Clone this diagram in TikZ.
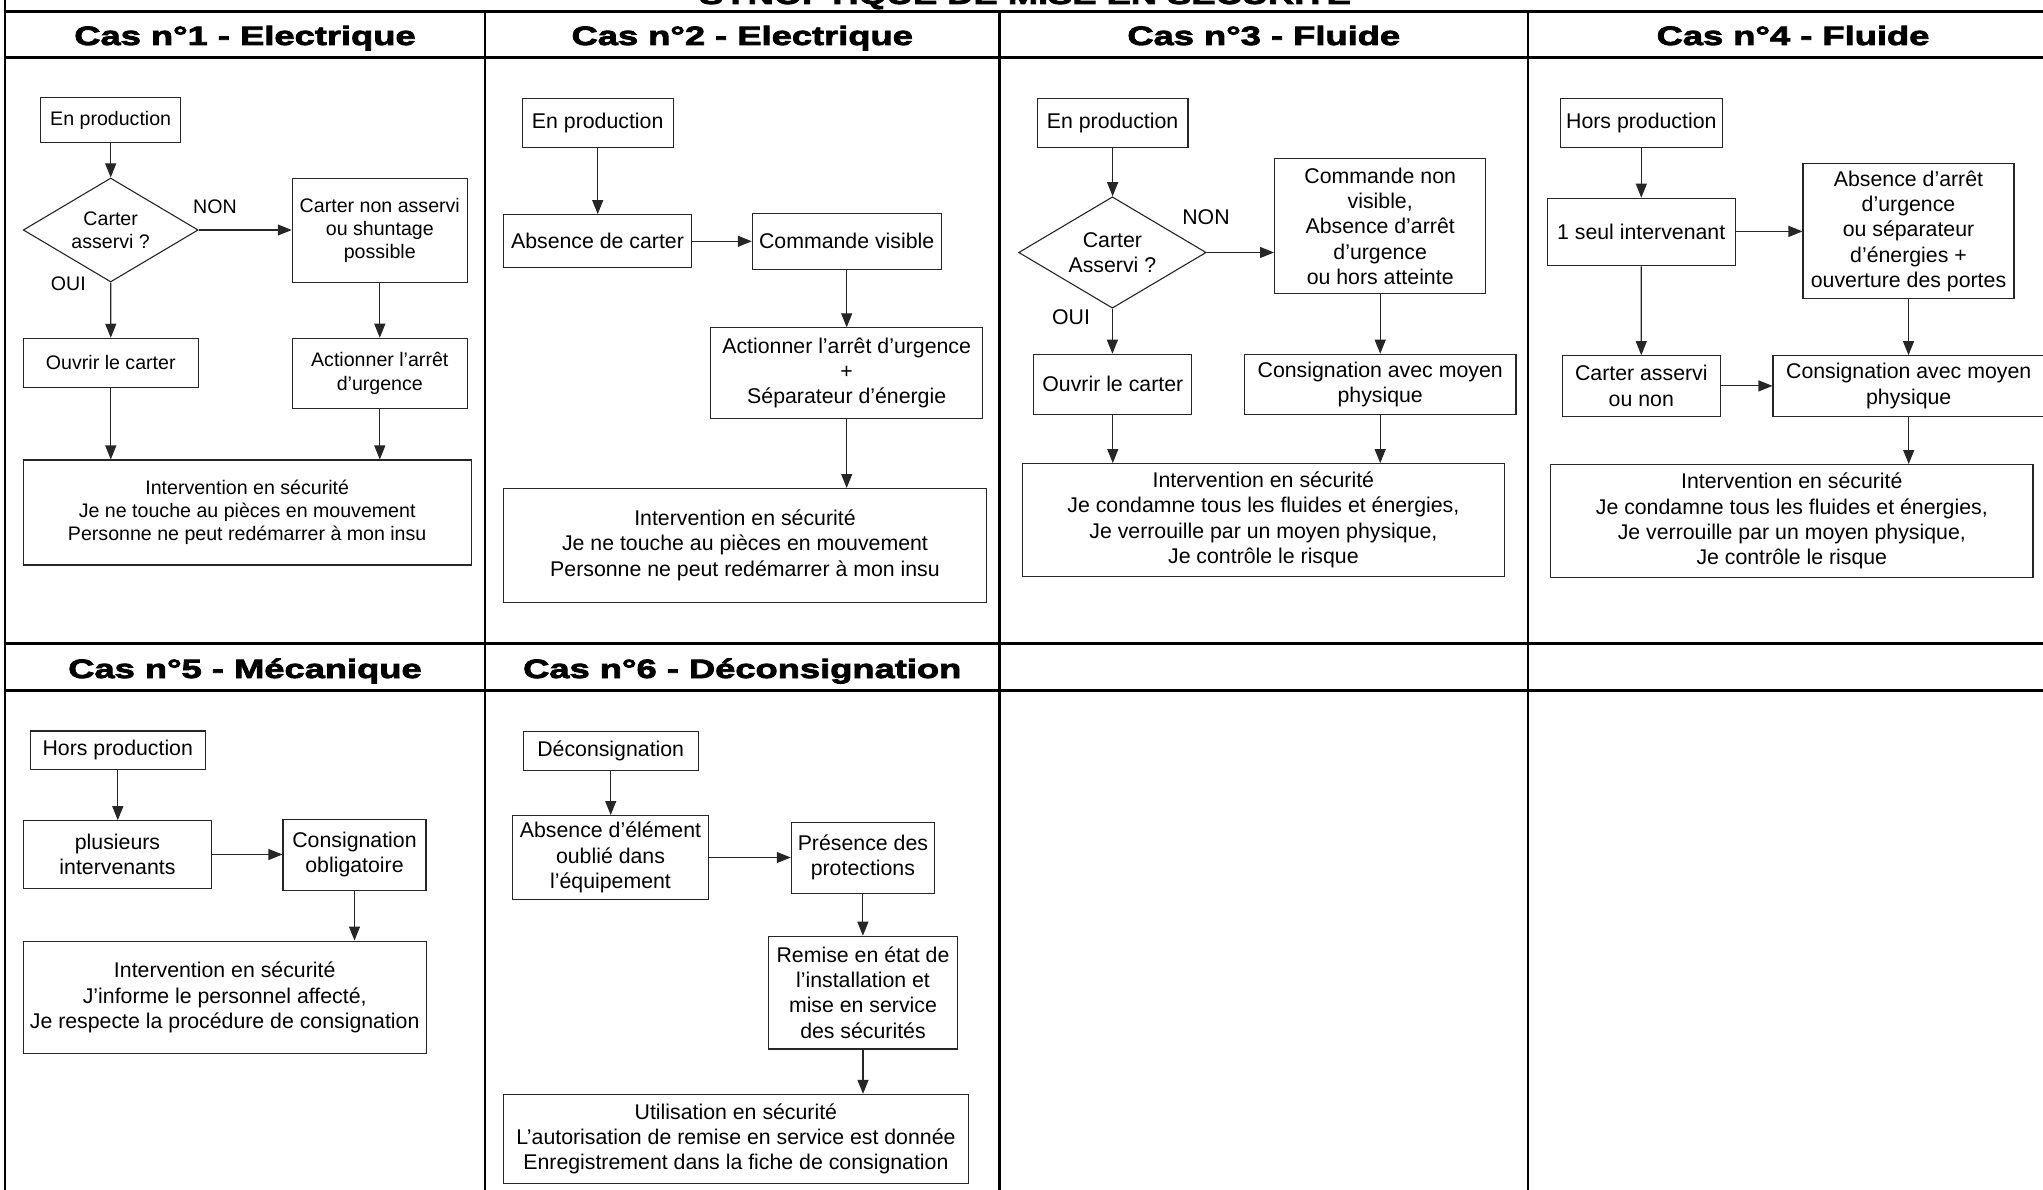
\documentclass[tikz,border=0pt]{standalone}
\usepackage{fontspec}
\setmainfont{Liberation Sans}
\newfontfamily\hfont{Liberation Sans}[FakeStretch=1.37, BoldFeatures={FakeBold=3}]
\usetikzlibrary{shapes.geometric, arrows.meta}
\begin{document}
\begin{tikzpicture}[x=1pt, y=-1pt,
  fa/.style={font=\fontsize{19.6}{23.3}\selectfont},
  fb/.style={font=\fontsize{21.3}{25.2}\selectfont},
  box/.style={draw=black!85, line width=1.1pt, inner sep=0pt, align=center, fb},
  boxa/.style={box, fa},
  dec/.style={diamond, draw=black!85, line width=1.1pt, inner sep=0pt, align=center, aspect=1.68},
  lbl/.style={inner sep=0pt},
  arr/.style={line width=1.1pt, draw=black!85, -{Triangle[length=14pt,width=11pt]}},
  hdr/.style={inner sep=0pt, anchor=base, font={\hfont\bfseries\fontsize{26.5}{30}\selectfont}},
  hline/.style={line width=3pt},
  vline/.style={line width=2.2pt}
]
\useasboundingbox (0,0) rectangle (2043,1190);
\fill[white] (0,0) rectangle (2043,1190);

% ---------- table grid ----------
\draw[vline] (5,0) -- (5,1195);
\draw[vline] (485,12) -- (485,1195);
\draw[vline] (999.5,12) -- (999.5,1195);
\draw[vline] (1528,12) -- (1528,1195);
\draw[vline] (2058,0) -- (2058,1195);
\draw[hline] (4,12) -- (2060,12);
\draw[hline] (4,58) -- (2060,58);
\draw[hline] (4,643.6) -- (2060,643.6);
\draw[hline] (4,690.9) -- (2060,690.9);

% ---------- titles ----------
\node[hdr] (title) at (1025,4) {SYNOPTIQUE DE MISE EN SÉCURITÉ};
\node[hdr] (h1) at (245,45) {Cas n°1 - Electrique};
\node[hdr] (h2) at (742.25,45) {Cas n°2 - Electrique};
\node[hdr] (h3) at (1263.75,45) {Cas n°3 - Fluide};
\node[hdr] (h4) at (1793,45) {Cas n°4 - Fluide};
\node[hdr] (h5) at (245,678) {Cas n°5 - Mécanique};
\node[hdr] (h6) at (742.25,678) {Cas n°6 - Déconsignation};

% ---------- Cas 1 ----------
\node[boxa, minimum width=140pt, minimum height=45.3pt] (en1) at (110.7,120.3) {En production};
\node[dec, fa, minimum width=175pt, minimum height=104pt] (d1) at (110.7,230) {Carter\\asservi ?};
\node[lbl, fa] (non1) at (215,206.7) {NON};
\node[lbl, fa] (oui1) at (68.3,284) {OUI};
\node[boxa, minimum width=175pt, minimum height=104pt] (cna1) at (379.8,230.3) {Carter non asservi\\ou shuntage\\possible};
\node[boxa, minimum width=175pt, minimum height=49pt] (ouv1) at (110.8,362.8) {Ouvrir le carter};
\node[boxa, minimum width=175pt, minimum height=70pt] (act1) at (379.8,373.3) {Actionner l’arrêt\\d’urgence};
\node[boxa, minimum width=447.7pt, minimum height=105pt] (int1) at (247.2,512.5) {Intervention en sécurité\\Je ne touche au pièces en mouvement\\Personne ne peut redémarrer à mon insu};
\draw[arr] (en1) -- (d1);
\draw[arr] (d1.east) -- (d1.east -| cna1.west);
\draw[arr] (d1) -- (ouv1);
\draw[arr] (cna1) -- (act1);
\draw[arr] (ouv1.south) -- (ouv1.south |- int1.north);
\draw[arr] (act1.south) -- (act1.south |- int1.north);

% ---------- Cas 2 ----------
\node[box, minimum width=151.3pt, minimum height=48.9pt] (en2) at (597.7,122.7) {En production};
\node[box, minimum width=188.4pt, minimum height=53.3pt] (abs2) at (597.5,241.3) {Absence de carter};
\node[box, minimum width=188.7pt, minimum height=56pt] (cv2) at (846.7,241.3) {Commande visible};
\node[box, minimum width=272pt, minimum height=90.3pt] (act2) at (846.7,373) {Actionner l’arrêt d’urgence\\+\\Séparateur d’énergie};
\node[box, minimum width=483.4pt, minimum height=113.5pt] (int2) at (745,545.3) {Intervention en sécurité\\Je ne touche au pièces en mouvement\\Personne ne peut redémarrer à mon insu};
\draw[arr] (en2.south) -- (en2.south |- abs2.north);
\draw[arr] (abs2.east) -- (abs2.east -| cv2.west);
\draw[arr] (cv2) -- (act2);
\draw[arr] (act2.south) -- (act2.south |- int2.north);

% ---------- Cas 3 ----------
\node[box, minimum width=150.8pt, minimum height=48.9pt] (en3) at (1112.6,122.7) {En production};
\node[dec, fb, minimum width=187.6pt, minimum height=111.4pt] (d3) at (1112.4,252.5) {Carter\\Asservi ?};
\node[lbl, fb] (non3) at (1206,217) {NON};
\node[lbl, fb] (oui3) at (1071,317) {OUI};
\node[box, minimum width=211.3pt, minimum height=135.3pt] (cnv3) at (1380.2,226.2) {Commande non\\visible,\\Absence d’arrêt\\d’urgence\\ou hors atteinte};
\node[box, minimum width=158pt, minimum height=60pt] (ouv3) at (1112.8,384.3) {Ouvrir le carter};
\node[box, minimum width=271.5pt, minimum height=60pt] (cons3) at (1380.2,384.3) {Consignation avec moyen\\physique};
\node[box, minimum width=482.1pt, minimum height=112.5pt] (int3) at (1263.4,519.9) {Intervention en sécurité\\Je condamne tous les fluides et énergies,\\Je verrouille par un moyen physique,\\Je contrôle le risque};
\draw[arr] (en3.south) -- (en3.south |- d3.north);
\draw[arr] (d3.east) -- (d3.east -| cnv3.west);
\draw[arr] (d3.south) -- (d3.south |- ouv3.north);
\draw[arr] (cnv3) -- (cons3);
\draw[arr] (ouv3.south) -- (ouv3.south |- int3.north);
\draw[arr] (cons3.south) -- (cons3.south |- int3.north);

% ---------- Cas 4 ----------
\node[box, minimum width=162pt, minimum height=48.9pt] (hp4) at (1641.3,122.7) {Hors production};
\node[box, minimum width=188.3pt, minimum height=67.5pt] (one4) at (1641.2,232) {1 seul intervenant};
\node[box, minimum width=211pt, minimum height=135pt] (abs4) at (1908.5,231.4) {Absence d’arrêt\\d’urgence\\ou séparateur\\d’énergies +\\ouverture des portes};
\node[box, minimum width=158pt, minimum height=60.4pt] (cao4) at (1641.3,385.9) {Carter asservi\\ou non};
\node[box, minimum width=271.4pt, minimum height=60.4pt] (cons4) at (1908.7,385.9) {Consignation avec moyen\\physique};
\node[box, minimum width=482.3pt, minimum height=112.9pt] (int4) at (1791.8,521) {Intervention en sécurité\\Je condamne tous les fluides et énergies,\\Je verrouille par un moyen physique,\\Je contrôle le risque};
\draw[arr] (hp4.south) -- (hp4.south |- one4.north);
\draw[arr] (one4.east |- abs4.west) -- (abs4.west);
\draw[arr] (one4) -- (cao4);
\draw[arr] (abs4.south) -- (abs4.south |- cons4.north);
\draw[arr] (cao4.east) -- (cao4.east -| cons4.west);
\draw[arr] (cons4.south) -- (cons4.south |- int4.north);

% ---------- Cas 5 ----------
\node[box, minimum width=175pt, minimum height=38.9pt] (hp5) at (117.8,750.4) {Hors production};
\node[box, minimum width=188.4pt, minimum height=67.6pt] (plu5) at (117.5,854.5) {plusieurs\\intervenants};
\node[box, minimum width=143pt, minimum height=70.9pt] (cob5) at (354.5,854.7) {Consignation\\obligatoire};
\node[box, minimum width=402.7pt, minimum height=112.7pt] (int5) at (224.7,997.4) {Intervention en sécurité\\J’informe le personnel affecté,\\Je respecte la procédure de consignation};
\draw[arr] (hp5.south) -- (hp5.south |- plu5.north);
\draw[arr] (plu5.east) -- (plu5.east -| cob5.west);
\draw[arr] (cob5.south) -- (cob5.south |- int5.north);

% ---------- Cas 6 ----------
\node[box, minimum width=175.3pt, minimum height=38.9pt] (dec6) at (610.7,750.7) {Déconsignation};
\node[box, minimum width=195.6pt, minimum height=83.9pt] (abs6) at (610.5,857.5) {Absence d’élément\\oublié dans\\l’équipement};
\node[box, minimum width=143.2pt, minimum height=70.9pt] (pres6) at (862.9,857.6) {Présence des\\protections};
\node[box, minimum width=188.7pt, minimum height=112.7pt] (rem6) at (863,992.6) {Remise en état de\\l’installation et\\mise en service\\des sécurités};
\node[box, minimum width=464.9pt, minimum height=89pt] (uti6) at (735.9,1138.9) {Utilisation en sécurité\\L’autorisation de remise en service est donnée\\Enregistrement dans la fiche de consignation};
\draw[arr] (dec6.south) -- (dec6.south |- abs6.north);
\draw[arr] (abs6.east) -- (abs6.east -| pres6.west);
\draw[arr] (pres6.south) -- (pres6.south |- rem6.north);
\draw[arr] (rem6.south) -- (rem6.south |- uti6.north);
\end{tikzpicture}
\end{document}
